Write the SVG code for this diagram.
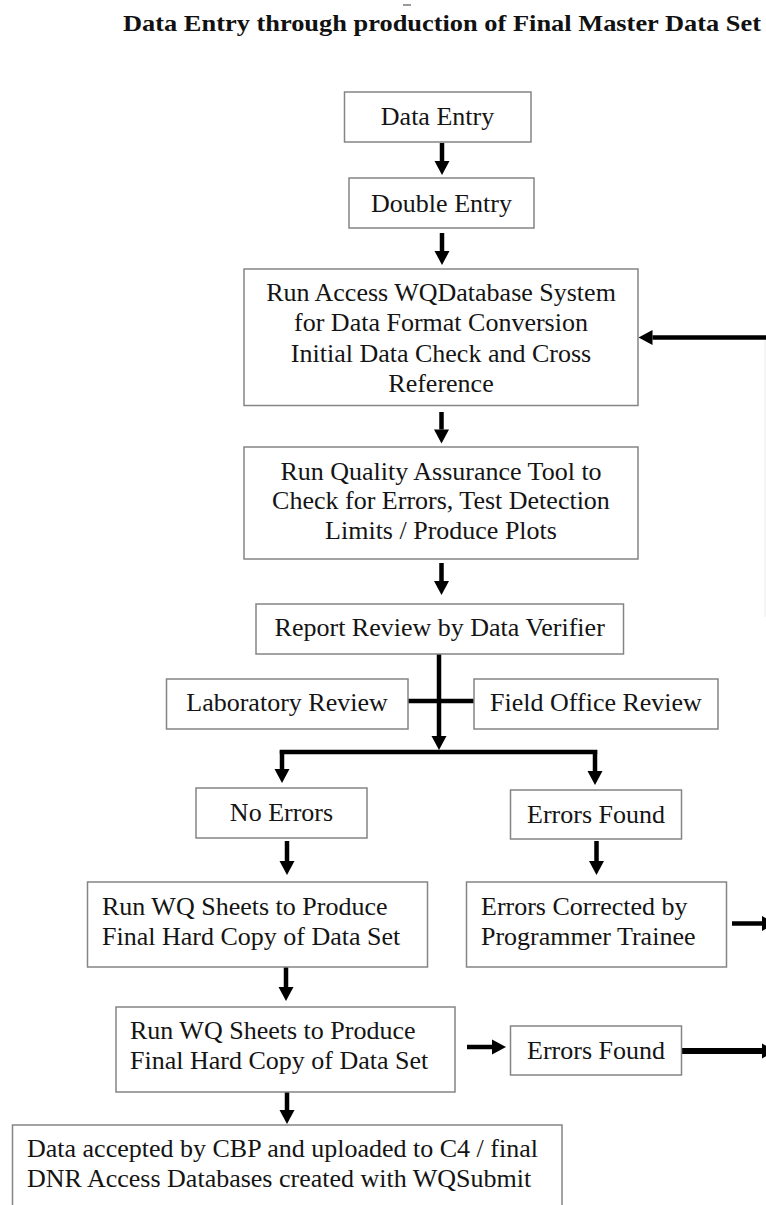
<svg xmlns="http://www.w3.org/2000/svg" width="766" height="1205" viewBox="0 0 766 1205">
  <style>
    .box { fill: #ffffff; stroke: #858585; stroke-width: 1.5; }
    .t { font-family: "Liberation Serif", "Times New Roman", serif; font-size: 26px; fill: #141414; }
    .c { text-anchor: middle; }
    .title { font-family: "Liberation Serif", "Times New Roman", serif; font-size: 23px; font-weight: bold; fill: #111111; }
    .wire { fill: none; stroke: #000000; stroke-width: 4.5; }
    .arrow { fill: none; stroke: #000000; stroke-width: 4.5; marker-end: url(#head); }
  </style>
  <defs>
    <marker id="head" markerUnits="userSpaceOnUse" markerWidth="16" markerHeight="16" viewBox="0 -8 16 16" refX="0" refY="0" orient="auto" overflow="visible">
      <path d="M0,-7.5 L14,0 L0,7.5 Z" fill="#000000"/>
    </marker>
  </defs>
  <rect width="766" height="1205" fill="#ffffff"/>

  <!-- heading -->
  <line x1="403" y1="5" x2="411" y2="5" stroke="#777777" stroke-width="1.5"/>
  <text class="title" x="123" y="31" textLength="638" lengthAdjust="spacingAndGlyphs">Data Entry through production of Final Master Data Set</text>

  <!-- connectors -->
  <g id="connectors">
    <path class="arrow" d="M442,143 V161"/>
    <path class="arrow" d="M442,233 V251"/>
    <path class="arrow" d="M441.5,412 V429.5"/>
    <path class="arrow" d="M441.5,563 V581"/>
    <!-- review trunk, side reviews and branch -->
    <path class="arrow" d="M439,654 V736"/>
    <path class="wire" d="M408,701 H474"/>
    <path class="wire" d="M279.8,752 H597.2"/>
    <path class="arrow" d="M282,750 V769"/>
    <path class="arrow" d="M595,750 V771"/>
    <path class="arrow" d="M287,841 V861"/>
    <path class="arrow" d="M596.5,841 V861"/>
    <path class="arrow" d="M286,967 V987"/>
    <path class="arrow" d="M287,1092 V1110"/>
    <!-- sideways exits -->
    <path class="arrow" d="M732,923.5 H762"/>
    <path class="arrow" d="M467,1047 H492"/>
    <path class="arrow" d="M682,1051 H762" style="stroke-width:6"/>
    <!-- return into the database step -->
    <path class="arrow" d="M768,337.5 H652.5"/>
    <line x1="765" y1="340" x2="765" y2="617" stroke="#ececec" stroke-width="1"/>
  </g>

  <g id="data-entry">
    <rect class="box" x="344.5" y="92" width="186.5" height="50"/>
    <text class="t c" x="437.5" y="125">Data Entry</text>
  </g>

  <g id="double-entry">
    <rect class="box" x="349" y="178" width="185" height="50"/>
    <text class="t c" x="441.5" y="211.5">Double Entry</text>
  </g>

  <g id="access-system">
    <rect class="box" x="244" y="269" width="394" height="136.5"/>
    <text class="t c" x="441" y="300.5">Run Access WQDatabase System</text>
    <text class="t c" x="441" y="331">for Data Format Conversion</text>
    <text class="t c" x="441" y="361.5">Initial Data Check and Cross</text>
    <text class="t c" x="441" y="392">Reference</text>
  </g>

  <g id="qa-tool">
    <rect class="box" x="244" y="447" width="394" height="112"/>
    <text class="t c" x="441" y="479.5">Run Quality Assurance Tool to</text>
    <text class="t c" x="441" y="509">Check for Errors, Test Detection</text>
    <text class="t c" x="441" y="538.5">Limits / Produce Plots</text>
  </g>

  <g id="report-review">
    <rect class="box" x="256" y="604" width="367.5" height="50"/>
    <text class="t c" x="439.7" y="636">Report Review by Data Verifier</text>
  </g>

  <g id="lab-review">
    <rect class="box" x="166.5" y="679" width="241.5" height="50"/>
    <text class="t c" x="287" y="711">Laboratory Review</text>
  </g>

  <g id="field-review">
    <rect class="box" x="474" y="679" width="244" height="50"/>
    <text class="t c" x="596" y="711">Field Office Review</text>
  </g>

  <g id="no-errors">
    <rect class="box" x="196" y="788" width="171" height="50"/>
    <text class="t c" x="281.5" y="821">No Errors</text>
  </g>

  <g id="errors-found">
    <rect class="box" x="510.5" y="790" width="171" height="49"/>
    <text class="t c" x="596" y="823">Errors Found</text>
  </g>

  <g id="wq-sheets-1">
    <rect class="box" x="87.5" y="882" width="340" height="85"/>
    <text class="t" x="102" y="914.5">Run WQ Sheets to Produce</text>
    <text class="t" x="102" y="944.5">Final Hard Copy of Data Set</text>
  </g>

  <g id="errors-corrected">
    <rect class="box" x="466.5" y="882" width="260" height="85"/>
    <text class="t" x="481" y="914.5">Errors Corrected by</text>
    <text class="t" x="481" y="944.5">Programmer Trainee</text>
  </g>

  <g id="wq-sheets-2">
    <rect class="box" x="116" y="1007" width="339" height="85"/>
    <text class="t" x="130" y="1039">Run WQ Sheets to Produce</text>
    <text class="t" x="130" y="1068.5">Final Hard Copy of Data Set</text>
  </g>

  <g id="errors-found-2">
    <rect class="box" x="510.5" y="1026" width="171" height="49"/>
    <text class="t c" x="596" y="1059">Errors Found</text>
  </g>

  <g id="data-accepted">
    <rect class="box" x="12.5" y="1125" width="549.5" height="100"/>
    <text class="t" x="27" y="1157">Data accepted by CBP and uploaded to C4 / final</text>
    <text class="t" x="27" y="1186.5">DNR Access Databases created with WQSubmit</text>
  </g>
</svg>
